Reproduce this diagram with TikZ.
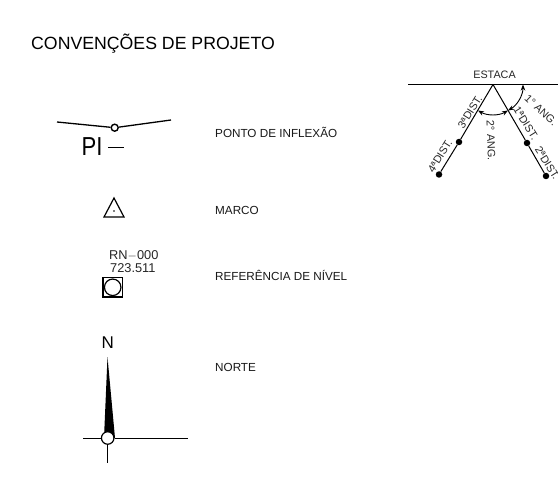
\documentclass[tikz,border=0pt]{standalone}
\usepackage{fontspec}
\setmainfont{Liberation Sans}
\usetikzlibrary{arrows.meta}
\tikzset{
 lbl/.style={font=\fontsize{11.7}{13}\selectfont,anchor=west,inner sep=0pt,text=black!90},
 small/.style={font=\fontsize{10.8}{11}\selectfont,inner sep=0pt,text=black!85},
 cad/.style={font=\fontsize{12.8}{13}\selectfont,inner sep=0pt,text=black!85},
 pt/.style={circle,fill=black,inner sep=0pt,minimum size=6.5pt},
 angarrow/.style={line width=0.9pt,{Stealth[length=6pt,width=4.5pt]}-{Stealth[length=6pt,width=4.5pt]}},
 leg/.style={line width=1pt},
}
\begin{document}
\begin{tikzpicture}[x=1pt,y=-1pt]
\useasboundingbox (0,0) rectangle (558,495);
\fill[white] (0,0) rectangle (558,495);
\node[font=\fontsize{17.7}{19}\selectfont,anchor=west,inner sep=0pt] (title) at (31,43.5) {CONVENÇÕES DE PROJETO};
% PI
\node[circle,draw,line width=1.4pt,inner sep=0pt,minimum size=7pt] (pi) at (114.7,127.7) {};
\coordinate (pil) at (57,122);
\coordinate (pir) at (171,120);
\draw[line width=1.3pt] (pil) -- (pi);
\draw[line width=1.3pt] (pi) -- (pir);
\node[font=\fontsize{26}{26}\selectfont,anchor=west,inner sep=0pt,xscale=.85] (pit) at (81.5,146.5) {PI};
\coordinate (pida) at (108,147.5);
\coordinate (pidb) at (124,147.5);
\draw[line width=1pt] (pida) -- (pidb);
\node[lbl] (l1) at (215,132.5) {PONTO DE INFLEXÃO};
% Marco
\draw[line width=1.2pt,line join=miter] (114,198) -- (104,217) -- (124,217) -- cycle;
\fill (114,211) circle (0.8);
\node[lbl] (l2) at (215,210) {MARCO};
% RN
\node[cad,anchor=west] (rn) at (109,255.7) {RN$-$000};
\node[cad,anchor=west] (rnv) at (110,268) {723.511};
\draw[line width=1.4pt] (103,277.5) rectangle (122.5,297);
\node[circle,draw,line width=1.2pt,inner sep=0pt,minimum size=16.5pt] (rnc) at (112.7,287.3) {};
\node[lbl] (l3) at (215,275.5) {REFERÊNCIA DE NÍVEL};
% Norte
\node[font=\fontsize{17}{17}\selectfont,inner sep=0pt] (n) at (107.7,342.7) {N};
\fill (107.5,357) -- (115,438) -- (104,438) -- cycle;
\node[circle,draw,fill=white,line width=1.2pt,inner sep=0pt,minimum size=12.5pt] (nc) at (107.7,438) {};
\coordinate (nl) at (83,438);
\coordinate (nr) at (188,438);
\coordinate (nb) at (107.7,463);
\draw[leg] (nl) -- (nc);
\draw[leg] (nc) -- (nr);
\draw[leg] (nc) -- (nb);
\node[lbl] (l4) at (215,367) {NORTE};
% Estaca
\node[small] (est) at (494.5,75) {ESTACA};
\coordinate (ea) at (408,84.5);
\coordinate (eb) at (558,84.5);
\coordinate (ap) at (493,84.5);
\draw[leg] (ea) -- (eb);
\node[pt] (p1) at (459,142) {};
\node[pt] (p2) at (439,174.5) {};
\node[pt] (p3) at (527,143) {};
\node[pt] (p4) at (546,176) {};
\draw[leg] (ap) -- (p1) -- (p2);
\draw[leg] (ap) -- (p3) -- (p4);
\draw[angarrow] (523,84.5) arc[start angle=0,end angle=60,radius=30];
\draw[angarrow] (508,110.5) arc[start angle=60,end angle=120,radius=30];
\node[small,rotate=-43] (a1) at (541,110) {1° ANG.};
\node[small,rotate=-88] (a2) at (491,140.7) {2° ANG.};
\node[small,rotate=58] (d3) at (470,112) {3ªDIST.};
\node[small,rotate=58] (d4) at (440,156) {4ªDIST.};
\node[small,rotate=-58] (d1) at (526,123.3) {1ªDIST.};
\node[small,rotate=-58] (d2) at (547.5,163) {2ªDIST.};
\end{tikzpicture}
\end{document}
